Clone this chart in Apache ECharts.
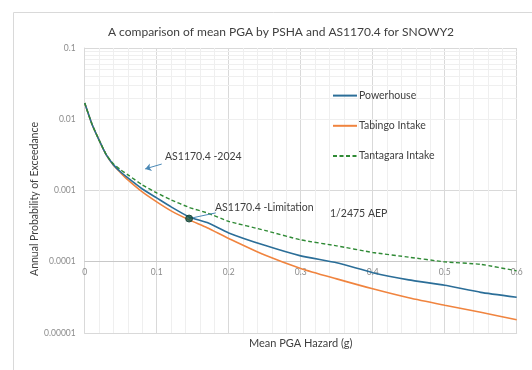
<!DOCTYPE html>
<html>
<head>
<meta charset="utf-8">
<script src="https://cdn.jsdelivr.net/npm/echarts@6/dist/echarts.min.js"></script>
<style>
  html, body { margin: 0; padding: 0; background: #fff; }
  #chart { width: 532px; height: 370px; }
</style>
</head>
<body>
<div id="chart"></div>
<script>
// mean PGA (g) sample points
const pga = [0, 0.01, 0.02, 0.03, 0.04, 0.05, 0.06, 0.08, 0.1, 0.12, 0.145, 0.17, 0.2, 0.25, 0.3, 0.35, 0.4, 0.45, 0.5, 0.55, 0.6];

const powerhouse = [0.0169, 0.0086, 0.0051, 0.00316, 0.00229, 0.00182, 0.0015, 0.00105, 0.000787, 0.000589, 0.000426, 0.000355, 0.000254, 0.00017, 0.000121, 0.0000966, 0.0000703, 0.0000557, 0.0000467, 0.0000372, 0.0000317];
const tabingo = [0.0169, 0.0086, 0.0051, 0.00316, 0.00226, 0.00177, 0.00141, 0.000955, 0.000692, 0.000518, 0.000387, 0.0003, 0.000212, 0.000124, 0.0000807, 0.0000575, 0.0000417, 0.0000312, 0.0000245, 0.0000195, 0.0000153];
const tantagara = [0.0169, 0.0086, 0.0051, 0.00318, 0.00236, 0.00195, 0.00166, 0.0012, 0.000925, 0.000738, 0.000579, 0.000485, 0.000369, 0.000276, 0.000203, 0.000167, 0.000135, 0.000116, 0.0000997, 0.000092, 0.0000745];

// design point from AS1170.4 at 1/2475 AEP
const limitPoint = [0.145, 1 / 2475];

const yTickLabels = ['0.00001', '0.0001', '0.001', '0.01', '0.1'];
const xTickLabels = ['0', '0.1', '0.2', '0.3', '0.4', '0.5', '0.6'];

const toPairs = (ys) => pga.map((x, i) => [x, ys[i]]);

// minor log gridlines 2..9 in every decade
const minorLogLines = [];
[1e-5, 1e-4, 1e-3, 1e-2].forEach(d => {
  for (let k = 2; k <= 9; k++) minorLogLines.push({ yAxis: d * k });
});

const chart = echarts.init(document.getElementById('chart'));
const font = 'Lato';
const option = {
  animation: false,
  textStyle: { fontFamily: font },
  title: {
    text: 'A comparison of mean PGA by PSHA and AS1170.4 for SNOWY2',
    left: 276,
    top: 21,
    textAlign: 'center',
    textStyle: { fontSize: 12, fontWeight: 'normal', color: '#404040', fontFamily: font }
  },
  grid: { left: 84.7, right: 15.3, top: 48, bottom: 37 },
  legend: {
    orient: 'vertical',
    left: 332,
    top: 90,
    padding: 0,
    itemWidth: 24,
    itemHeight: 14,
    itemGap: 19,
    itemStyle: { opacity: 0 },
    textStyle: { fontSize: 10.5, color: '#404040', padding: [0, 0, 0, -3], fontFamily: font },
    data: ['Powerhouse', 'Tabingo Intake', 'Tantagara Intake']
  },
  xAxis: [
    {
      type: 'value',
      min: 0,
      max: 0.6,
      interval: 0.1,
      name: 'Mean PGA Hazard (g)',
      nameLocation: 'middle',
      nameGap: 5,
      nameTextStyle: { fontSize: 11, color: '#404040', verticalAlign: 'top' },
      axisLabel: { show: false },
      axisTick: { show: false },
      axisLine: { show: true, lineStyle: { color: '#d9d9d9' } },
      splitLine: { show: true, lineStyle: { color: '#d9d9d9' } },
      minorTick: { show: false, splitNumber: 5 },
      minorSplitLine: { show: true, lineStyle: { color: '#efefef' } }
    },
    {
      type: 'value',
      min: 0,
      max: 0.6,
      interval: 0.1,
      position: 'bottom',
      offset: -71.3,
      axisLine: { show: true, lineStyle: { color: '#c8c8c8' } },
      axisTick: { show: false },
      splitLine: { show: false },
      axisLabel: {
        margin: 6,
        fontSize: 8.5,
        color: '#8c8c8c',
        formatter: (v, i) => xTickLabels[i]
      }
    }
  ],
  yAxis: {
    type: 'log',
    logBase: 10,
    min: 0.00001,
    max: 0.1,
    axisLine: { show: true, lineStyle: { color: '#d9d9d9' } },
    axisTick: { show: false },
    splitLine: { show: true, lineStyle: { color: '#d9d9d9' } },
    axisLabel: {
      margin: 9,
      fontSize: 8.5,
      color: '#8c8c8c',
      formatter: (v, i) => yTickLabels[i]
    }
  },
  series: [
    {
      name: 'gridlines',
      type: 'line',
      data: [],
      silent: true,
      z: 0,
      markLine: {
        silent: true,
        z: 0,
        symbol: 'none',
        label: { show: false },
        lineStyle: { color: '#efefef', width: 1, type: 'solid' },
        data: minorLogLines
      }
    },
    {
      name: 'Tabingo Intake',
      type: 'line',
      data: toPairs(tabingo),
      symbol: 'none',
      smooth: 0.25,
      lineStyle: { color: '#f0843f', width: 1.6 },
      itemStyle: { color: '#f0843f' }
    },
    {
      name: 'Powerhouse',
      type: 'line',
      data: toPairs(powerhouse),
      symbol: 'none',
      smooth: 0.15,
      lineStyle: { color: '#2b6e98', width: 1.6 },
      itemStyle: { color: '#2b6e98' }
    },
    {
      name: 'Tantagara Intake',
      type: 'line',
      data: toPairs(tantagara),
      symbol: 'none',
      smooth: 0.15,
      lineStyle: { color: '#2f8a35', width: 1.4, type: [4, 2.5] },
      itemStyle: { color: '#2f8a35' },
      z: 3
    },
    {
      name: 'annotations',
      type: 'line',
      data: [],
      markLine: {
        silent: true,
        label: { show: false },
        lineStyle: { color: '#4a88b5', width: 1, type: 'solid' },
        data: [
          [
            { coord: [0.107, 0.00235], symbol: 'none' },
            { coord: [0.084, 0.00201], symbol: 'arrow', symbolSize: 6 }
          ],
          [
            { coord: [0.182, 0.000485], symbol: 'none' },
            { coord: limitPoint, symbol: 'none' }
          ]
        ]
      }
    },
    {
      name: 'AS1170.4 limitation',
      type: 'scatter',
      data: [limitPoint],
      symbol: 'circle',
      symbolSize: 7,
      itemStyle: { color: '#155443', borderColor: '#0e3a2e', borderWidth: 1 },
      z: 5
    }
  ],
  graphic: [
    { type: 'line', z: 100, shape: { x1: 13.5, y1: 12.5, x2: 540, y2: 12.5 }, style: { stroke: '#d9d9d9', lineWidth: 1 } },
    { type: 'line', z: 100, shape: { x1: 13.5, y1: 12.5, x2: 13.5, y2: 380 }, style: { stroke: '#d9d9d9', lineWidth: 1 } },
    {
      type: 'text', z: 100, x: 35, y: 199, rotation: Math.PI / 2,
      style: { text: 'Annual Probability of Exceedance', fill: '#404040', font: '10.5px Lato', align: 'center', verticalAlign: 'middle' }
    },
    { type: 'text', z: 100, x: 165, y: 157, style: { text: 'AS1170.4 -2024', fill: '#404040', font: '10.5px Lato', verticalAlign: 'middle' } },
    { type: 'text', z: 100, x: 215, y: 208, style: { text: 'AS1170.4 -Limitation', fill: '#404040', font: '10.5px Lato', verticalAlign: 'middle' } },
    { type: 'text', z: 100, x: 330, y: 214, style: { text: '1/2475 AEP', fill: '#404040', font: '10.5px Lato', verticalAlign: 'middle' } }
  ]
};
chart.setOption(option);
</script>
</body>
</html>
